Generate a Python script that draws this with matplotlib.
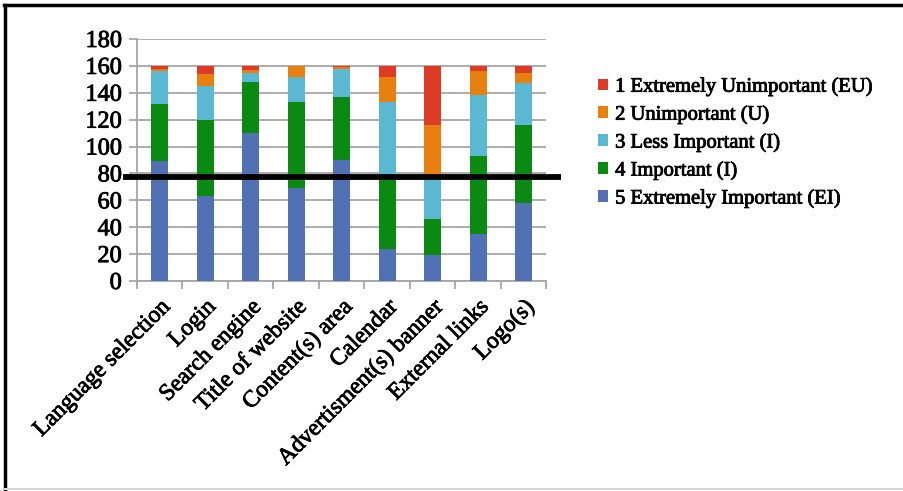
import matplotlib
matplotlib.use("Agg")
import matplotlib.pyplot as plt
import matplotlib.patheffects as pe
import numpy as np
from matplotlib.patches import Patch
from matplotlib.lines import Line2D

categories = ["Language selection", "Login", "Search engine", "Title of website",
              "Content(s) area", "Calendar", "Advertisment(s) banner",
              "External links", "Logo(s)"]

# Responses per rating level (stacked bottom to top: 5, 4, 3, 2, 1)
extremely_important = [89, 63, 110, 69, 90, 24, 19, 35, 58]
important = [43, 57, 38, 64, 47, 55, 27, 58, 58]
less_important = [24, 25, 7, 19, 21, 54, 33, 45, 31]
unimportant = [2, 9, 2, 8, 1, 19, 37, 18, 8]
extremely_unimportant = [2, 6, 3, 0, 1, 8, 44, 4, 5]

threshold = 77
y_ticks = [0, 20, 40, 60, 80, 100, 120, 140, 160, 180]

series = [
    ("5 Extremely Important (EI)", extremely_important, "#5271B4"),
    ("4 Important (I)", important, "#0A8A12"),
    ("3 Less Important (I)", less_important, "#5BB8D2"),
    ("2 Unimportant (U)", unimportant, "#E8800F"),
    ("1 Extremely Unimportant (EU)", extremely_unimportant, "#DE3B26"),
]

plt.rcParams["font.family"] = ["Liberation Serif", "DejaVu Serif"]
heavy = [pe.withStroke(linewidth=0.6, foreground="black")]

fig = plt.figure(figsize=(9.04, 4.91), dpi=100)
ax = fig.add_axes([0.1515, 0.4277, 0.453, 0.4929])

x = np.arange(len(categories))
bottom = np.zeros(len(categories))
handles = []
for label, vals, color in series:
    vals = np.array(vals, dtype=float)
    ax.bar(x, vals, bottom=bottom, width=0.38, color=color, zorder=3)
    bottom += vals
    handles.append(Patch(facecolor=color, label=label))

ax.set_xlim(-0.5, len(categories) - 0.5)
ax.set_ylim(0, 180)
ax.set_yticks(y_ticks)
ax.set_yticklabels([str(v) for v in y_ticks], fontsize=17.5)
ax.yaxis.grid(True, color="#A6A6A6", linewidth=1.3, zorder=0)
ax.set_axisbelow(True)

ax.set_xticks(x)
ax.set_xticklabels(categories, rotation=45, ha="right", rotation_mode="anchor",
                   fontsize=17)
ax.tick_params(axis="x", which="major", length=0, pad=11)
ax.set_xticks(np.arange(-0.5, len(categories), 1.0), minor=True)
ax.tick_params(axis="x", which="minor", length=6, width=1.3, color="#A6A6A6")
ax.tick_params(axis="y", length=6, width=1.3, color="#A6A6A6", pad=5)

for lbl in ax.get_xticklabels() + ax.get_yticklabels():
    lbl.set_path_effects(heavy)

for side in ["top", "right"]:
    ax.spines[side].set_visible(False)
for side in ["left", "bottom"]:
    ax.spines[side].set_color("#A6A6A6")
    ax.spines[side].set_linewidth(1.3)

# Cut-off line across the chart
ax.plot([-0.81, 8.83], [threshold, threshold], color="black", linewidth=4.2,
        clip_on=False, zorder=5, solid_capstyle="butt")

leg = fig.legend(handles=handles[::-1], loc="upper left",
                 bbox_to_anchor=(0.652, 0.86), frameon=False, fontsize=14.8,
                 handlelength=0.5, handleheight=0.5, handletextpad=0.35,
                 labelspacing=0.4, borderaxespad=0)
for t in leg.get_texts():
    t.set_path_effects(heavy)

# Outer frame
fig.add_artist(Line2D([0.004, 1.0], [0.99, 0.99], color="black", linewidth=2.5,
                      transform=fig.transFigure))
fig.add_artist(Line2D([0.005, 0.005], [0.004, 0.99], color="black", linewidth=2.5,
                      transform=fig.transFigure))
fig.add_artist(Line2D([0.005, 1.0], [0.004, 0.004], color="#D8D8D8", linewidth=1.5,
                      transform=fig.transFigure))

fig.savefig("out.png", dpi=100)
